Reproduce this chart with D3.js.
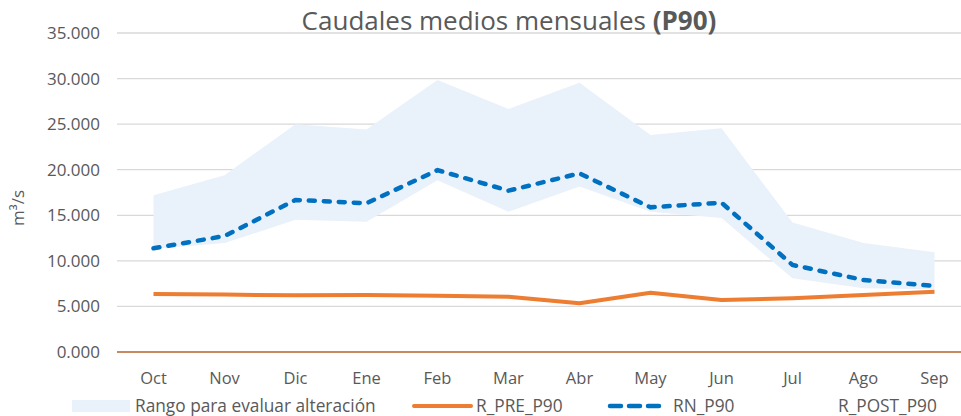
<!DOCTYPE html>
<html>
<head>
<meta charset="utf-8">
<script src="https://cdn.jsdelivr.net/npm/d3@7"></script>
<style>
  body { margin: 0; background: #fff; }
  svg { display: block; font-family: "Open Sans", sans-serif; }
</style>
</head>
<body>
<svg id="chart" width="961" height="416"></svg>
<script>
var width = 961;
var height = 416;

// months of the hydrological year
var months = ["Oct", "Nov", "Dic", "Ene", "Feb", "Mar", "Abr", "May", "Jun", "Jul", "Ago", "Sep"];

// range to evaluate alteration (upper / lower)
var rangoAlto = [17200, 19400, 25000, 24400, 29850, 26650, 29550, 23800, 24550, 14200, 11950, 10950];
var rangoBajo = [11300, 11950, 14500, 14300, 18850, 15400, 18150, 15400, 14700, 8080, 7000, 6880];

var rPre = [6360, 6300, 6220, 6250, 6180, 6070, 5360, 6500, 5700, 5890, 6250, 6620];
var rn = [11380, 12720, 16680, 16320, 19950, 17700, 19600, 15870, 16380, 9550, 7900, 7240];

var yTicks = [0, 5000, 10000, 15000, 20000, 25000, 30000, 35000];
var yTickLabels = ["0.000", "5.000", "10.000", "15.000", "20.000", "25.000", "30.000", "35.000"];

var legendNames = ["Rango para evaluar alteración", "R_PRE_P90", "RN_P90", "R_POST_P90"];

var svg = d3.select("#chart");

var x = d3.scalePoint().domain(months).range([118, 970]).padding(0.5);
var y = d3.scaleLinear().domain([0, 35000]).range([352, 33]);

// gridlines
svg.append("g")
    .selectAll("line")
    .data(yTicks.slice(1))
    .enter().append("line")
    .attr("x1", 117)
    .attr("x2", width)
    .attr("y1", function(d) { return y(d); })
    .attr("y2", function(d) { return y(d); })
    .attr("stroke", "#d9d9d9")
    .attr("stroke-width", 1.3);

// y labels
svg.append("g")
    .selectAll("text")
    .data(yTicks)
    .enter().append("text")
    .attr("x", 100)
    .attr("y", function(d) { return y(d); })
    .attr("dy", "0.35em")
    .attr("text-anchor", "end")
    .attr("font-size", 17)
    .attr("fill", "#595959")
    .text(function(d, i) { return yTickLabels[i]; });

// range area
var area = d3.area()
    .x(function(d, i) { return x(months[i]); })
    .y0(function(d, i) { return y(rangoBajo[i]); })
    .y1(function(d) { return y(d); });

svg.append("path")
    .datum(rangoAlto)
    .attr("d", area)
    .attr("fill", "#e9f1fa");

var line = d3.line()
    .x(function(d, i) { return x(months[i]); })
    .y(function(d) { return y(d); });

svg.append("path")
    .datum(rPre)
    .attr("d", line)
    .attr("fill", "none")
    .attr("stroke", "#ed7d31")
    .attr("stroke-width", 4)
    .attr("stroke-linejoin", "round");

svg.append("path")
    .datum(rn)
    .attr("d", line)
    .attr("fill", "none")
    .attr("stroke", "#0070c0")
    .attr("stroke-width", 4.5)
    .attr("stroke-linecap", "round")
    .attr("stroke-dasharray", "6,9");

// zero axis line
svg.append("line")
    .attr("x1", 117).attr("x2", width)
    .attr("y1", y(0)).attr("y2", y(0))
    .attr("stroke", "#b5622a")
    .attr("stroke-width", 1.5);

// x labels
svg.append("g")
    .selectAll("text")
    .data(months)
    .enter().append("text")
    .attr("x", function(d) { return x(d); })
    .attr("y", 384)
    .attr("text-anchor", "middle")
    .attr("font-size", 16.5)
    .attr("fill", "#595959")
    .text(function(d) { return d; });

// title
var title = svg.append("text")
    .attr("x", 509)
    .attr("y", 30)
    .attr("text-anchor", "middle")
    .attr("font-size", 26)
    .attr("fill", "#595959");
title.append("tspan").text("Caudales medios mensuales ");
title.append("tspan").attr("font-weight", "bold").text("(P90)");

// y axis title
svg.append("text")
    .attr("transform", "translate(24,208) rotate(-90)")
    .attr("text-anchor", "middle")
    .attr("font-size", 17)
    .attr("fill", "#595959")
    .text("m³/s");

// legend
var lg = svg.append("g").attr("font-size", 17.3).attr("fill", "#595959");
lg.append("rect").attr("x", 72).attr("y", 400).attr("width", 58).attr("height", 12).attr("fill", "#e9f1fa");
lg.append("line").attr("x1", 414).attr("x2", 471).attr("y1", 406).attr("y2", 406)
    .attr("stroke", "#ed7d31").attr("stroke-width", 4).attr("stroke-linecap", "round");
lg.append("line").attr("x1", 610).attr("x2", 662).attr("y1", 406).attr("y2", 406)
    .attr("stroke", "#0070c0").attr("stroke-width", 4.5).attr("stroke-linecap", "round")
    .attr("stroke-dasharray", "11,8");
var legendX = [135, 476, 673, 838];
lg.selectAll("text")
    .data(legendNames)
    .enter().append("text")
    .attr("x", function(d, i) { return legendX[i]; })
    .attr("y", 412)
    .text(function(d) { return d; });
</script>
</body>
</html>
